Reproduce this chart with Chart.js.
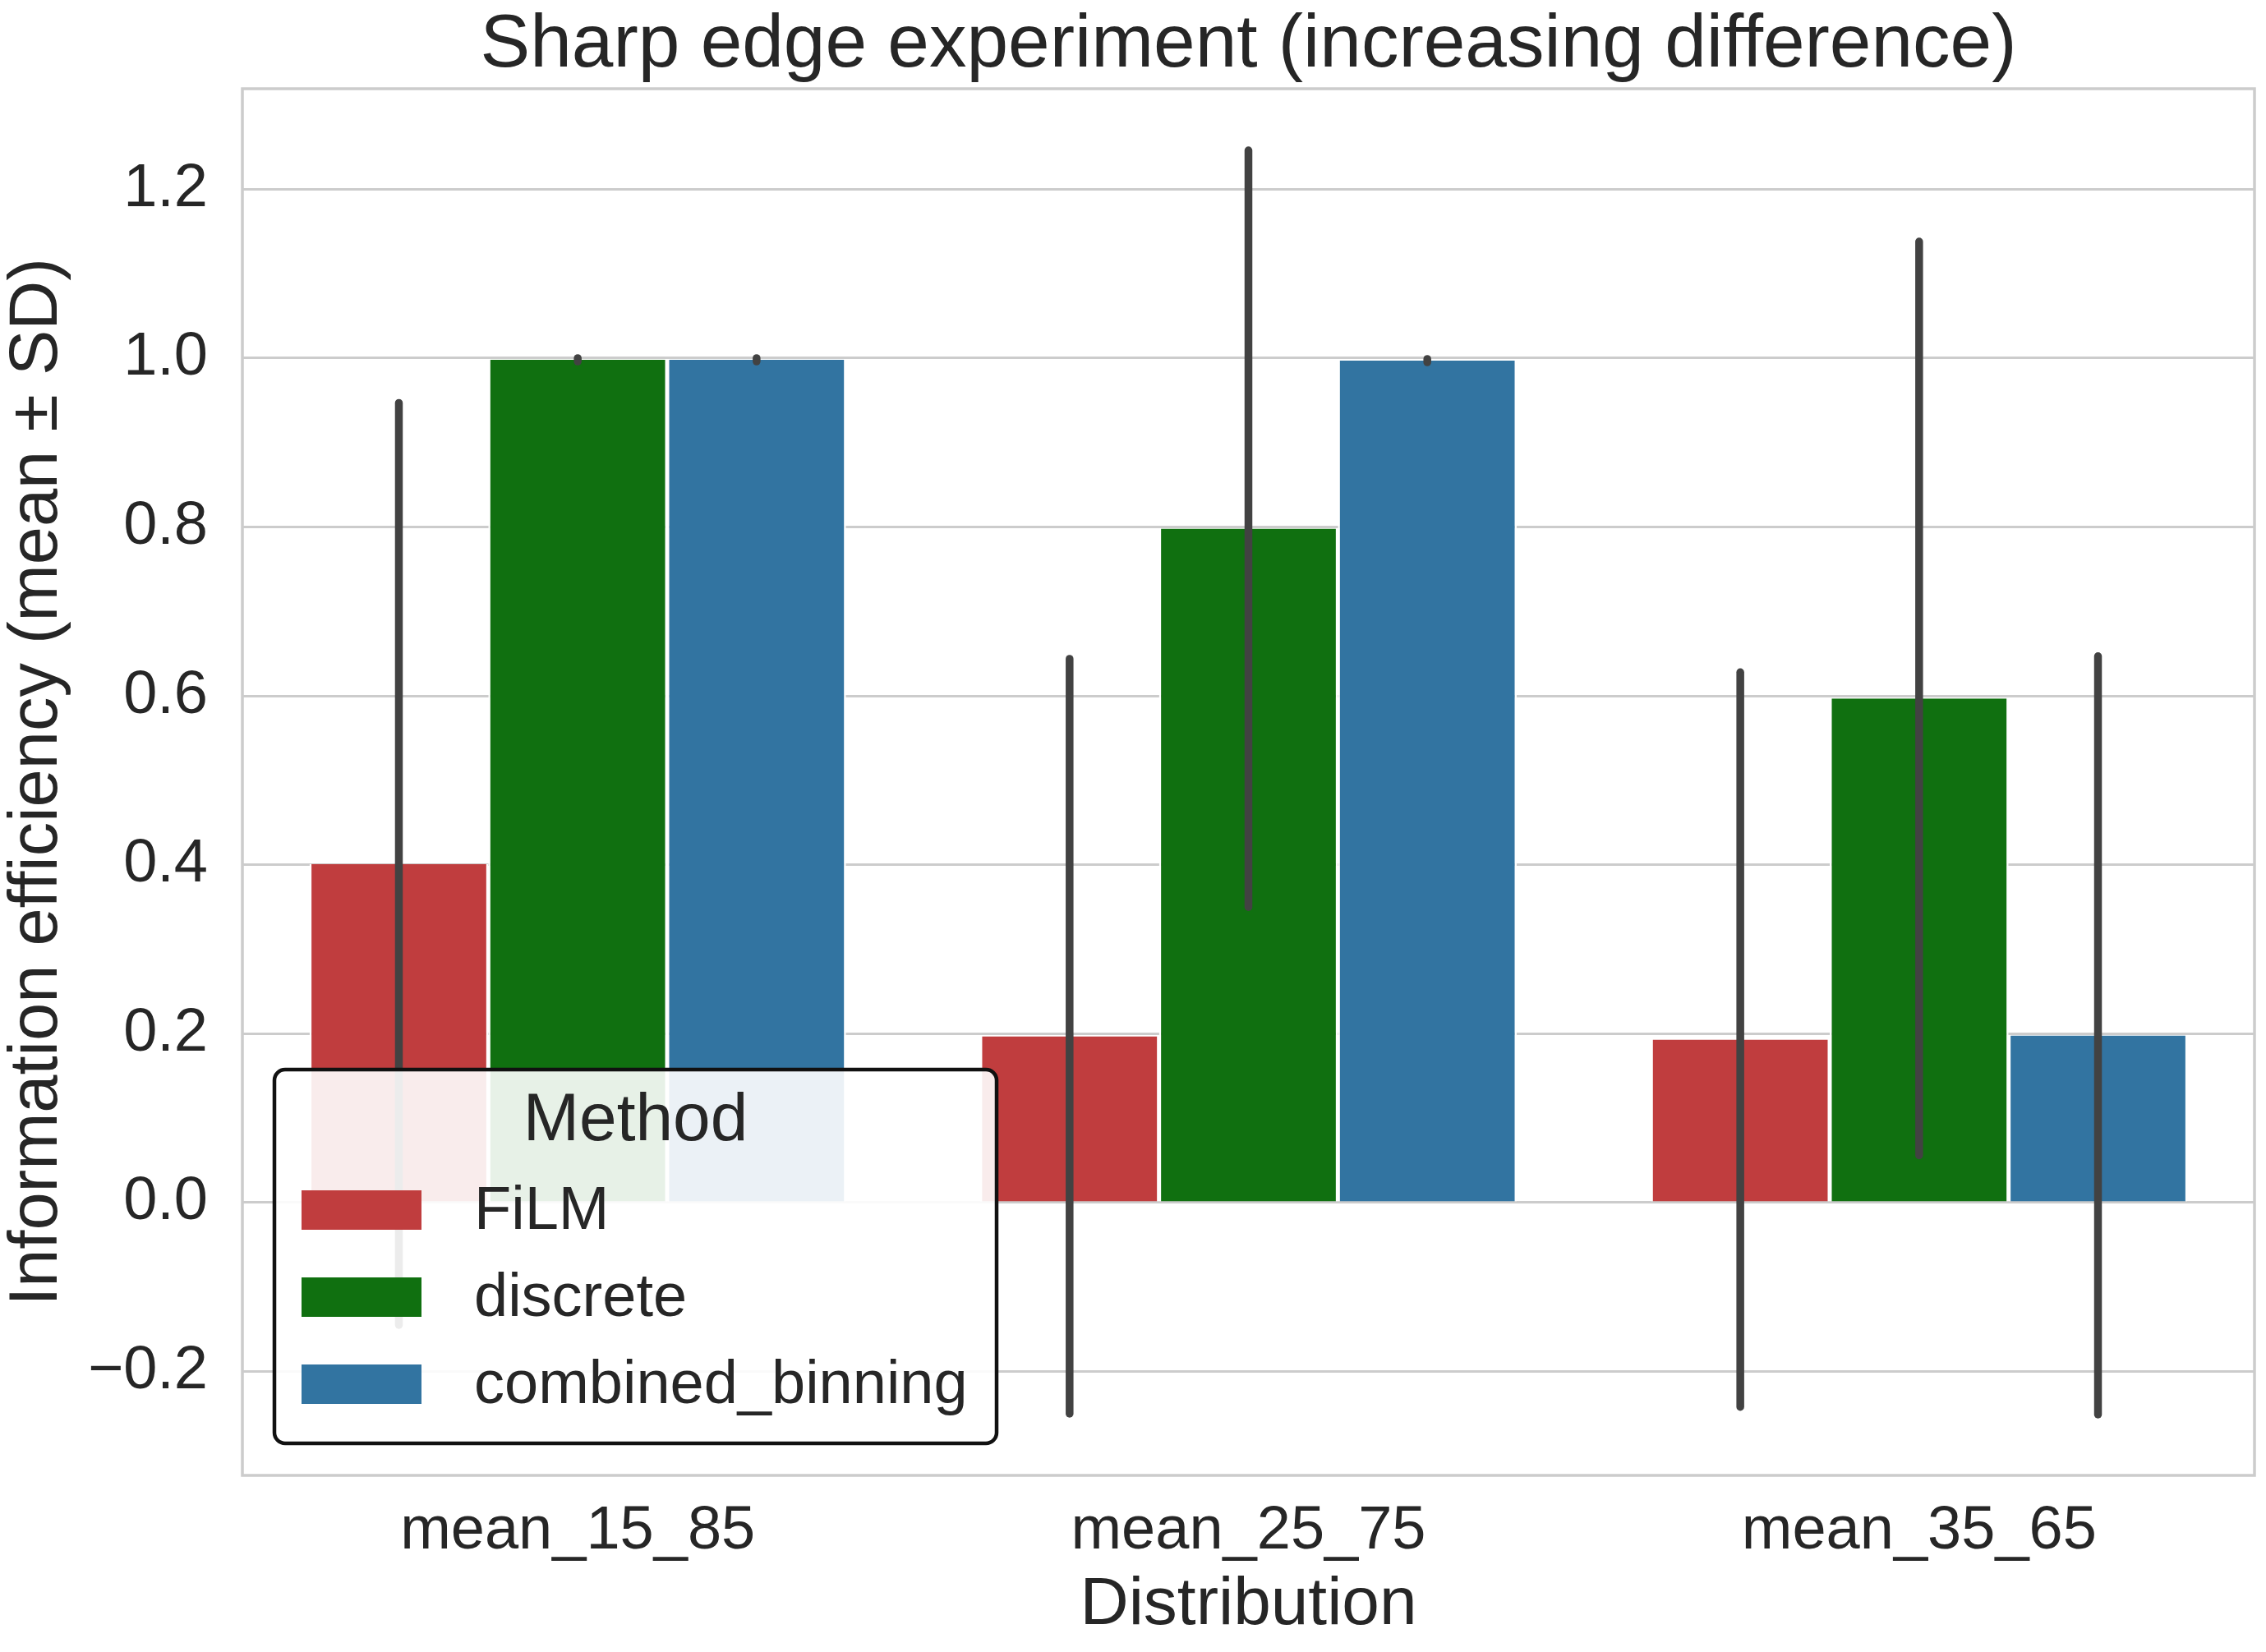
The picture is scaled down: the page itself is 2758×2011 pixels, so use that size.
<!DOCTYPE html>
<html>
<head>
<meta charset="utf-8">
<script src="https://cdn.jsdelivr.net/npm/chart.js@4.4.1/dist/chart.umd.min.js"></script>
<style>
    html, body { margin: 0; padding: 0; background: #fff; }
    #wrap { width: 2758px; height: 2011px; }
</style>
</head>
<body>
<div id="wrap"><canvas id="myChart" width="2758" height="2011"></canvas></div>
<script>
// data
var categories = ['mean_15_85', 'mean_25_75', 'mean_35_65'];
var methods = ['FiLM', 'discrete', 'combined_binning'];
var filmMean = [0.401, 0.197, 0.193];
var filmSD = [0.546, 0.447, 0.435];
var discreteMean = [0.998, 0.798, 0.597];
var discreteSD = [0.002, 0.448, 0.541];
var binningMean = [0.998, 0.997, 0.198];
var binningSD = [0.002, 0.002, 0.449];
var yTicks = [-0.2, 0.0, 0.2, 0.4, 0.6, 0.8, 1.0, 1.2];
var yMin = -0.323, yMax = 1.319;

var textColor = '#262626';
var fontFamily = '"Liberation Sans", Arial, sans-serif';

Chart.defaults.font.family = fontFamily;
Chart.defaults.color = textColor;

// all four spines, light grey like seaborn whitegrid
var frame = {
    id: 'frame',
    afterDatasetsDraw: function(chart) {
        var ctx = chart.ctx, a = chart.chartArea;
        ctx.save();
        ctx.strokeStyle = '#cccccc';
        ctx.lineWidth = 3.5;
        ctx.strokeRect(a.left, a.top, a.right - a.left, a.bottom - a.top);
        ctx.restore();
    }
};

// mean +/- SD lines on each bar
var errorBars = {
    id: 'errorBars',
    afterDatasetsDraw: function(chart) {
        var ctx = chart.ctx, y = chart.scales.y;
        ctx.save();
        ctx.strokeStyle = '#424242';
        ctx.lineWidth = 9.5;
        ctx.lineCap = 'round';
        chart.data.datasets.forEach(function(ds, i) {
            chart.getDatasetMeta(i).data.forEach(function(bar, j) {
                var m = ds.data[j], s = ds.sd[j];
                ctx.beginPath();
                ctx.moveTo(bar.x, y.getPixelForValue(m + s));
                ctx.lineTo(bar.x, y.getPixelForValue(m - s));
                ctx.stroke();
            });
        });
        ctx.restore();
    }
};

// framed legend in the lower left corner, drawn over the bars
var boxLegend = {
    id: 'boxLegend',
    afterDraw: function(chart) {
        var ctx = chart.ctx, a = chart.chartArea;
        var w = 879, h = 455;
        var x0 = a.left + 39, y0 = a.bottom - 39 - h;
        ctx.save();
        ctx.beginPath();
        ctx.roundRect(x0, y0, w, h, 13);
        ctx.fillStyle = 'rgba(255,255,255,0.9)';
        ctx.fill();
        ctx.lineWidth = 4.5;
        ctx.strokeStyle = '#111111';
        ctx.stroke();

        ctx.fillStyle = textColor;
        ctx.textAlign = 'center';
        ctx.textBaseline = 'middle';
        ctx.font = '82px ' + fontFamily;
        ctx.fillText('Method', x0 + w / 2, y0 + 63);

        ctx.textAlign = 'left';
        ctx.font = '74px ' + fontFamily;
        chart.data.datasets.forEach(function(ds, i) {
            var top = y0 + 147 + i * 106;
            ctx.fillStyle = ds.backgroundColor;
            ctx.fillRect(x0 + 33, top, 146, 48);
            ctx.fillStyle = textColor;
            ctx.fillText(ds.label, x0 + 243, top + 27);
        });
        ctx.restore();
    }
};

function makeSet(label, mean, sd, color) {
    return {
        label: label,
        data: mean,
        sd: sd,
        backgroundColor: color,
        borderColor: '#ffffff',
        borderWidth: { top: 0, bottom: 0, left: 2.5, right: 2.5 },
        borderSkipped: false,
        barPercentage: 1.0,
        categoryPercentage: 0.8
    };
}

var ctx = document.getElementById('myChart').getContext('2d');

var myChart = new Chart(ctx, {
    type: 'bar',
    data: {
        labels: categories,
        datasets: [
            makeSet(methods[0], filmMean, filmSD, '#c03d3e'),
            makeSet(methods[1], discreteMean, discreteSD, '#107010'),
            makeSet(methods[2], binningMean, binningSD, '#3274a1')
        ]
    },
    options: {
        responsive: false,
        animation: false,
        devicePixelRatio: 1,
        layout: { padding: { left: 0, right: 14, top: 0, bottom: 0 } },
        plugins: {
            legend: { display: false },
            tooltip: { enabled: false },
            title: {
                display: true,
                fullSize: false,
                text: 'Sharp edge experiment (increasing difference)',
                color: textColor,
                font: { size: 91, weight: 'normal', lineHeight: 1.143 },
                padding: { top: 4, bottom: 0 }
            }
        },
        scales: {
            x: {
                offset: true,
                grid: { display: false, drawTicks: false },
                border: { display: false },
                ticks: { font: { size: 74 }, padding: 24, color: textColor },
                title: {
                    display: true,
                    text: 'Distribution',
                    color: textColor,
                    font: { size: 82 },
                    padding: { top: 0, bottom: 7 }
                },
                afterFit: function(s) { s.height = 215; }
            },
            y: {
                min: yMin,
                max: yMax,
                afterBuildTicks: function(s) {
                    s.ticks = yTicks.map(function(v) { return { value: v }; });
                },
                grid: { color: '#cccccc', lineWidth: 3, drawTicks: false },
                border: { display: false },
                ticks: {
                    font: { size: 74 },
                    padding: 42,
                    color: textColor,
                    callback: function(v) {
                        var t = Math.abs(v) < 1e-9 ? '0.0' : v.toFixed(1);
                        return t.replace('-', '\u2212');
                    }
                },
                title: {
                    display: true,
                    text: 'Information efficiency (mean \u00b1 SD)',
                    color: textColor,
                    font: { size: 83, lineHeight: 1.1 },
                    padding: 0
                },
                afterFit: function(s) { s.width = 295; }
            }
        }
    },
    plugins: [frame, errorBars, boxLegend]
});
</script>
</body>
</html>
